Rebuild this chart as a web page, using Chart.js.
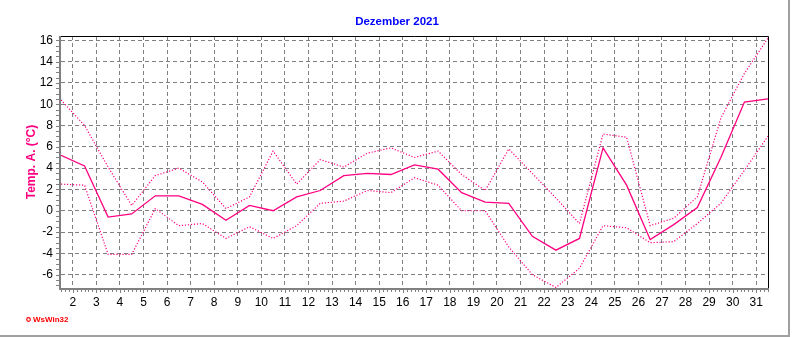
<!DOCTYPE html>
<html lang="de">
<head>
    <meta charset="UTF-8">
    <title>Dezember 2021</title>
    <script src="https://cdn.jsdelivr.net/npm/chart.js"></script>
    <style>
        html, body { margin: 0; padding: 0; background: #fff; }
        #wrap { width: 792px; height: 337px; }
    </style>
</head>
<body>
    <div id="wrap"><canvas id="tempChart" width="792" height="337"></canvas></div>

    <script>
        // Tageswerte Dezember 2021 (Punkt jeweils Tagesmitte)
        var days = [1, 2, 3, 4, 5, 6, 7, 8, 9, 10, 11, 12, 13, 14, 15, 16,
                    17, 18, 19, 20, 21, 22, 23, 24, 25, 26, 27, 28, 29, 30, 31];
        var tempMean = [5.2, 4.2, -0.6, -0.3, 1.4, 1.4, 0.6, -0.9, 0.5, 0.0, 1.3, 1.9, 3.3, 3.5, 3.4, 4.3,
                        3.9, 1.7, 0.8, 0.7, -2.4, -3.7, -2.6, 5.9, 2.4, -2.7, -1.3, 0.3, 5.0, 10.2, 10.5];
        var tempMax = [10.4, 8.0, 4.1, 0.5, 3.3, 4.0, 2.7, 0.2, 1.3, 5.6, 2.5, 4.8, 4.1, 5.4, 5.9, 5.0,
                       5.6, 3.4, 1.9, 5.8, 3.5, 1.2, -1.2, 7.2, 6.9, -1.4, -0.7, 1.3, 8.7, 12.9, 16.2];
        var tempMin = [2.5, 2.4, -4.1, -4.1, 0.2, -1.4, -1.2, -2.6, -1.5, -2.6, -1.4, 0.7, 0.9, 1.9, 1.7, 3.1,
                       2.4, 0.0, 0.0, -3.4, -6.0, -7.2, -5.4, -1.4, -1.6, -3.0, -2.9, -1.2, 0.7, 3.8, 7.0];

        var xTickDays = [2, 3, 4, 5, 6, 7, 8, 9, 10, 11, 12, 13, 14, 15, 16, 17,
                         18, 19, 20, 21, 22, 23, 24, 25, 26, 27, 28, 29, 30, 31];
        var yTickValues = [-6, -4, -2, 0, 2, 4, 6, 8, 10, 12, 14, 16];

        var chartTitle = 'Dezember 2021';
        var yAxisTitle = 'Temp. A. (°C)';
        var footerText = 'WsWin32';

        var pink = '#ff0080';
        var gridGrey = '#808080';
        var fontName = '"Liberation Sans", Arial, sans-serif';

        function toPoints(values) {
            return days.map(function(d, i) {
                return { x: d + 0.5, y: values[i] };
            });
        }

        // Rahmen, Skalenstriche und Beschriftungen im WsWin-Stil
        var wswinDecor = {
            id: 'wswinDecor',
            afterDraw: function(chart) {
                var ctx = chart.ctx;
                var a = chart.chartArea;
                var xs = chart.scales.x;
                var ys = chart.scales.y;
                ctx.save();

                // oben/rechts schwarz
                ctx.strokeStyle = '#000';
                ctx.lineWidth = 1;
                ctx.beginPath();
                ctx.moveTo(a.left, a.top + 0.5);
                ctx.lineTo(a.right + 0.5, a.top + 0.5);
                ctx.lineTo(a.right + 0.5, a.bottom);
                ctx.stroke();

                // links/unten grau, dick
                ctx.fillStyle = gridGrey;
                ctx.fillRect(a.left - 2, a.top, 2, a.bottom - a.top + 2);
                ctx.fillRect(a.left - 2, a.bottom, a.right - a.left + 3, 2);

                // Striche x
                ctx.strokeStyle = gridGrey;
                ctx.lineWidth = 1;
                ctx.beginPath();
                var steps = Math.round((xs.max - xs.min) * 6);
                for (var i = 0; i <= steps; i++) {
                    var v = xs.min + i / 6;
                    var px = Math.round(xs.getPixelForValue(v)) + 0.5;
                    var major = Math.abs(v - Math.round(v)) < 0.01;
                    ctx.moveTo(px, a.bottom + 2);
                    ctx.lineTo(px, a.bottom + (major ? 5 : 4));
                }
                // Striche y
                for (var y = Math.ceil(ys.min * 2) / 2; y <= ys.max; y += 0.5) {
                    var py = Math.round(ys.getPixelForValue(y)) + 0.5;
                    ctx.moveTo(a.left - 2, py);
                    ctx.lineTo(a.left - 5, py);
                }
                ctx.stroke();

                // Titel
                ctx.fillStyle = '#0000ff';
                ctx.font = 'bold 11.5px ' + fontName;
                ctx.textAlign = 'center';
                ctx.textBaseline = 'middle';
                ctx.fillText(chartTitle, 397, 22);

                // Achsentitel
                ctx.save();
                ctx.translate(32, (a.top + a.bottom) / 2);
                ctx.rotate(-Math.PI / 2);
                ctx.fillStyle = pink;
                ctx.font = 'bold 12px ' + fontName;
                ctx.fillText(yAxisTitle, 0, 0);
                ctx.restore();

                // Fusszeile
                ctx.strokeStyle = '#ff0000';
                ctx.lineWidth = 1.2;
                ctx.beginPath();
                ctx.arc(28.5, 319.5, 1.8, 0, Math.PI * 2);
                ctx.stroke();
                ctx.fillStyle = '#ff0000';
                ctx.font = 'bold 8px ' + fontName;
                ctx.textAlign = 'left';
                ctx.fillText(footerText, 33, 320);

                // Bildrand
                ctx.fillStyle = '#a0a0a0';
                ctx.fillRect(788, 0, 2, 336);
                ctx.fillRect(0, 335, 790, 2);
                ctx.restore();
            }
        };

        var ctx = document.getElementById('tempChart').getContext('2d');
        new Chart(ctx, {
            type: 'line',
            data: {
                datasets: [{
                    label: 'Mittel',
                    data: toPoints(tempMean),
                    borderColor: pink,
                    borderWidth: 1.3,
                    pointRadius: 0,
                    tension: 0
                }, {
                    label: 'Max',
                    data: toPoints(tempMax),
                    borderColor: pink,
                    borderWidth: 1.2,
                    borderDash: [1.2, 1.8],
                    pointRadius: 0,
                    tension: 0
                }, {
                    label: 'Min',
                    data: toPoints(tempMin),
                    borderColor: pink,
                    borderWidth: 1.2,
                    borderDash: [1.2, 1.8],
                    pointRadius: 0,
                    tension: 0
                }]
            },
            options: {
                responsive: false,
                animation: false,
                devicePixelRatio: 1,
                layout: { padding: { top: 36, right: 24, bottom: 0, left: 0 } },
                plugins: {
                    legend: { display: false },
                    tooltip: { enabled: false },
                    title: { display: false }
                },
                scales: {
                    x: {
                        type: 'linear',
                        min: 1.5,
                        max: 31.5,
                        afterBuildTicks: function(scale) {
                            scale.ticks = xTickDays.map(function(v) { return { value: v }; });
                        },
                        afterFit: function(scale) { scale.height = 49; },
                        ticks: {
                            autoSkip: false,
                            maxRotation: 0,
                            padding: 7,
                            color: '#000',
                            font: { family: fontName, size: 12 },
                            callback: function(v) { return v; }
                        },
                        grid: { color: gridGrey, lineWidth: 1, drawTicks: false },
                        border: { display: false, dash: [4, 3] }
                    },
                    y: {
                        min: -7.25,
                        max: 16.4,
                        afterBuildTicks: function(scale) {
                            scale.ticks = yTickValues.map(function(v) { return { value: v }; });
                        },
                        afterFit: function(scale) { scale.width = 61; },
                        ticks: {
                            padding: 8,
                            color: '#000',
                            font: { family: fontName, size: 12 },
                            callback: function(v) { return v; }
                        },
                        grid: { color: gridGrey, lineWidth: 1, drawTicks: false },
                        border: { display: false, dash: [4, 3] }
                    }
                }
            },
            plugins: [wswinDecor]
        });
    </script>
</body>
</html>
